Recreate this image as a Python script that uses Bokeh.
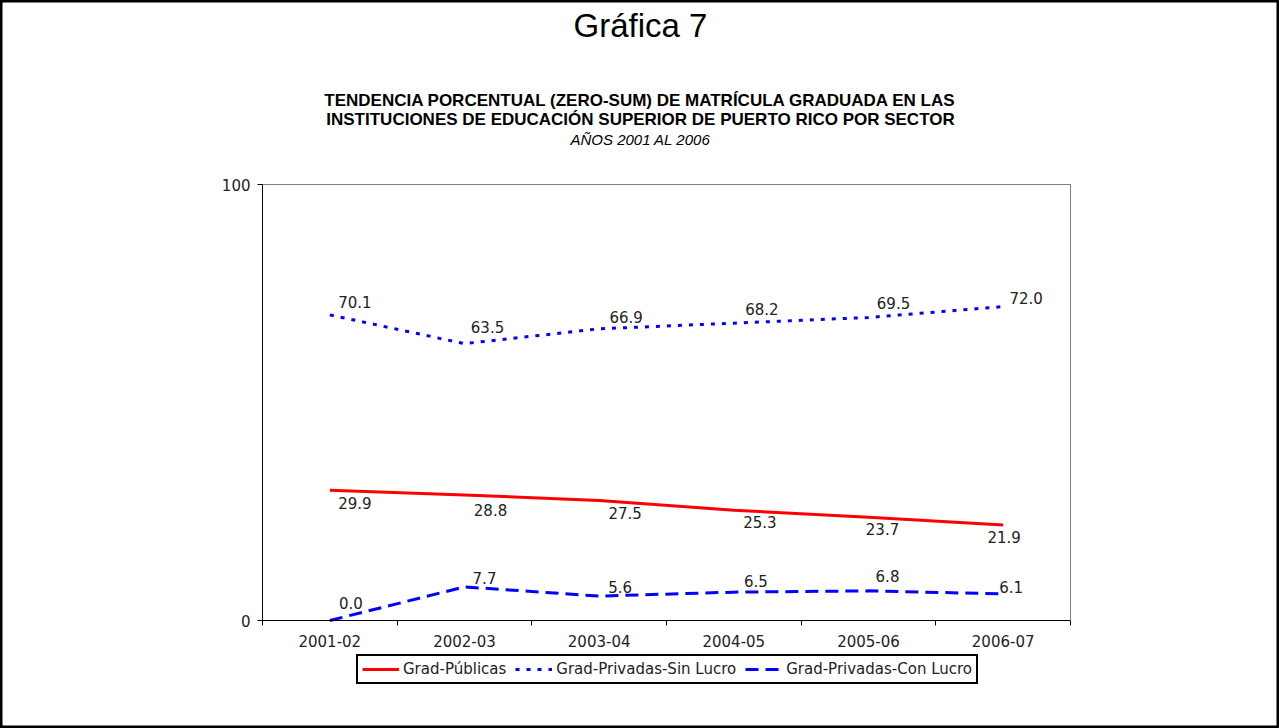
from bokeh.plotting import figure
from bokeh.models import (ColumnDataSource, Range1d, FixedTicker, Legend, LegendItem, Label,
                          LinearAxis)
from bokeh.core.properties import value
from bokeh.embed import file_html
from bokeh.resources import INLINE

# ---- data ----
categories = ["2001-02", "2002-03", "2003-04", "2004-05", "2005-06", "2006-07"]
publicas = [29.9, 28.8, 27.5, 25.3, 23.7, 21.9]
sin_lucro = [70.1, 63.5, 66.9, 68.2, 69.5, 72.0]
con_lucro = [0.0, 7.7, 5.6, 6.5, 6.8, 6.1]
series_names = ["Grad-Públicas", "Grad-Privadas-Sin Lucro", "Grad-Privadas-Con Lucro"]
y_ticks = [0, 100]

main_title = "Gráfica 7"
title_line1 = "TENDENCIA PORCENTUAL (ZERO-SUM) DE MATRÍCULA GRADUADA EN LAS"
title_line2 = "INSTITUCIONES DE EDUCACIÓN SUPERIOR DE PUERTO RICO POR SECTOR"
subtitle = "AÑOS 2001 AL 2006"

# ---- label offsets (screen pixels, style only; +y is down) ----
pub_dx = [25, 26, 26, 26, 14, 1]
pub_dy = [13, 15, 12, 12, 12, 12]
sin_dx = [25, 23, 27, 28, 25, 23]
sin_dy = [-13, -17, -12, -14, -14, -9]
con_dx = [21, 20, 21, 22, 19, 8]
con_dy = [-18, -9, -9, -11, -15, -7]

# ---- layout (pixels) ----
W, H = 1279, 728
PL, PT, PR, PB = 262, 184, 1070, 620          # plot-area edges on the page
ncat = len(categories)
px_x = (PR - PL) / ncat
px_y = (PB - PT) / 100.0
x_start, x_end = -PL / px_x, ncat + (W - PR) / px_x
y_start, y_end = -(H - PB) / px_y, 100 + PT / px_y

xs = [i + 0.5 for i in range(ncat)]

p = figure(width=W, height=H, output_backend="svg", toolbar_location=None, title=None,
           x_range=Range1d(x_start, x_end), y_range=Range1d(y_start, y_end),
           x_axis_type=None, y_axis_type=None, min_border=0)
p.background_fill_color = "white"
p.border_fill_color = "white"
p.grid.visible = False
p.outline_line_color = "black"
p.outline_line_width = 4

FONT = "DejaVu Sans"
TF = "Liberation Sans"
FS = "15px"
TXT = "#222222"

# gray top / right edges of plot area
ax_r = LinearAxis(fixed_location=ncat, bounds=(0, 100), ticker=FixedTicker(ticks=[]),
                  axis_line_color="#808080", major_tick_line_color=None,
                  minor_tick_line_color=None, major_label_text_font_size="0px")
p.add_layout(ax_r, "right")
ax_t = LinearAxis(fixed_location=100, bounds=(0, ncat), ticker=FixedTicker(ticks=[]),
                  axis_line_color="#808080", major_tick_line_color=None,
                  minor_tick_line_color=None, major_label_text_font_size="0px")
p.add_layout(ax_t, "above")

# x axis (category axis, ticks between categories)
ax_x = LinearAxis(fixed_location=0, bounds=(0, ncat),
                  ticker=FixedTicker(ticks=xs, minor_ticks=list(range(ncat + 1))),
                  major_label_overrides={x: c for x, c in zip(xs, categories)},
                  major_tick_out=0, major_tick_in=0, major_tick_line_color=None,
                  minor_tick_out=5, minor_tick_in=0, minor_tick_line_color="black",
                  axis_line_color="black", major_label_standoff=9,
                  major_label_text_font=FONT, major_label_text_font_size=FS,
                  major_label_text_color=TXT)
p.add_layout(ax_x, "below")

# y axis
ax_y = LinearAxis(fixed_location=0, bounds=(0, 100), ticker=FixedTicker(ticks=y_ticks),
                  minor_tick_line_color=None, major_tick_out=5, major_tick_in=0,
                  major_tick_line_color="black", axis_line_color="black",
                  major_label_standoff=7, major_label_text_font=FONT,
                  major_label_text_font_size=FS, major_label_text_color=TXT)
p.add_layout(ax_y, "left")

src = ColumnDataSource(dict(x=xs, pub=publicas, sin=sin_lucro, con=con_lucro,
                            pub_t=[f"{v:.1f}" for v in publicas],
                            sin_t=[f"{v:.1f}" for v in sin_lucro],
                            con_t=[f"{v:.1f}" for v in con_lucro],
                            pub_dx=pub_dx, pub_dy=pub_dy, sin_dx=sin_dx, sin_dy=sin_dy,
                            con_dx=con_dx, con_dy=con_dy))

r_pub = p.line("x", "pub", source=src, line_color="#ff0000", line_width=3)
r_sin = p.line("x", "sin", source=src, line_color="#0000ff", line_width=3, line_dash="4 7")
r_con = p.line("x", "con", source=src, line_color="#0000ff", line_width=3, line_dash="13 7")

for col, dx, dy in (("pub", "pub_dx", "pub_dy"), ("sin", "sin_dx", "sin_dy"), ("con", "con_dx", "con_dy")):
    p.text("x", col, text=col + "_t", source=src, x_offset=dx, y_offset=dy,
           text_align="center", text_baseline="middle",
           text_font=value(FONT), text_font_size=FS, text_color=TXT)

legend = Legend(items=[LegendItem(label=series_names[0], renderers=[r_pub]),
                       LegendItem(label=series_names[1], renderers=[r_sin]),
                       LegendItem(label=series_names[2], renderers=[r_con])],
                orientation="horizontal", location=(356, H - 684),
                glyph_width=37, glyph_height=16, label_height=17, label_standoff=4,
                spacing=9, padding=4, margin=0,
                label_text_font=FONT, label_text_font_size=FS, label_text_color=TXT,
                border_line_color="black", border_line_width=2, border_line_alpha=1.0,
                background_fill_color="white", background_fill_alpha=1.0)
p.add_layout(legend, "center")

# titles (screen units measured from the bottom-left of the canvas)
def title_label(text, cy, size, style):
    return Label(x=640, y=H - cy, x_units="screen", y_units="screen", text=text,
                 text_align="center", text_baseline="middle", text_font=TF,
                 text_font_style=style, text_font_size=size, text_color="black")

p.add_layout(title_label(main_title, 25, "33px", "normal"))
p.add_layout(title_label(title_line1, 100, "17px", "bold"))
p.add_layout(title_label(title_line2, 119, "17px", "bold"))
p.add_layout(title_label(subtitle, 139, "15px", "italic"))

open("out.html", "w").write(file_html(p, INLINE))
